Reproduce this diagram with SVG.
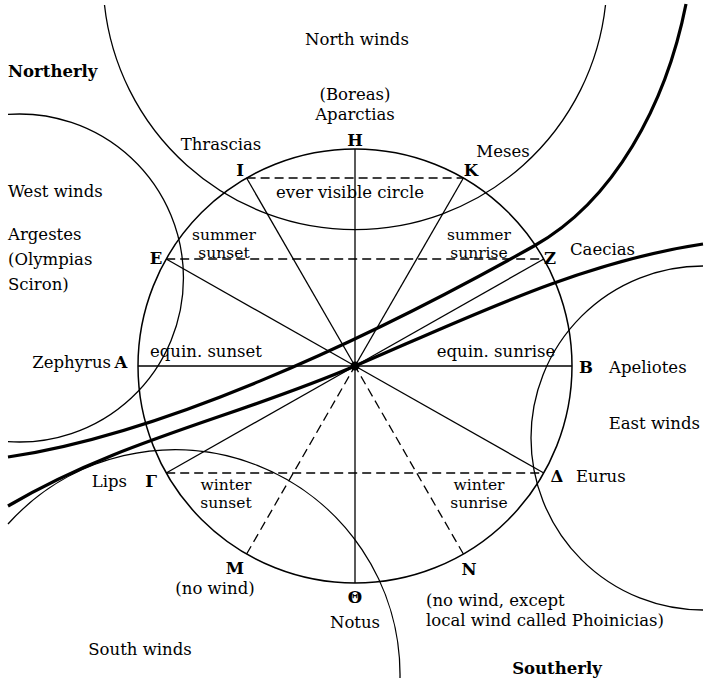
<svg xmlns="http://www.w3.org/2000/svg" width="704" height="684" viewBox="0 0 704 684">
<style>
.ln{stroke:#000;stroke-width:1.3;fill:none}
.circ{stroke:#000;stroke-width:1.5;fill:none}
.dash{stroke-dasharray:9 5}
.thick{stroke:#000;stroke-width:3.2;fill:none}
text{font-family:"DejaVu Serif","Liberation Serif",serif;font-size:16.5px;fill:#000}
.s{font-size:15.5px}
.b{font-weight:bold}
.m{text-anchor:middle}
.e{text-anchor:end}
</style>
<rect width="704" height="684" fill="#fff"/>
<g id="wind-circles">
<path id="north-circle" class="ln" d="M104.5 5 A252 252 0 0 0 605.5 5"/>
<path id="west-circle" class="ln" d="M8 114.4 A164 164 0 1 1 8 441.6"/>
<path id="south-circle" class="ln" d="M8 524 A225 225 0 0 1 400 678"/>
<path id="east-circle" class="ln" d="M703 266 A172 172 0 1 0 703 610"/>
</g>
<g id="main-circle">
<circle class="circ" cx="355" cy="366" r="217"/>
<circle cx="355" cy="366" r="4.5" fill="#000"/>
</g>
<g id="connectors">
<line class="ln" x1="355" y1="149" x2="355" y2="583"/>
<line class="ln" x1="138" y1="366" x2="572" y2="366"/>
<line class="ln dash" x1="246.6" y1="178" x2="463.4" y2="178"/>
<line class="ln dash" x1="166.2" y1="259" x2="543.8" y2="259"/>
<line class="ln dash" x1="166.2" y1="473" x2="543.8" y2="473"/>
<line class="ln" x1="246.6" y1="178" x2="355" y2="366"/>
<line class="ln" x1="463.4" y1="178" x2="355" y2="366"/>
<line class="ln" x1="166.2" y1="259" x2="355" y2="366"/>
<line class="ln" x1="543.8" y1="259" x2="355" y2="366"/>
<line class="ln" x1="166.2" y1="473" x2="355" y2="366"/>
<line class="ln" x1="543.8" y1="473" x2="355" y2="366"/>
<line class="ln dash" x1="246.6" y1="554" x2="355" y2="366"/>
<line class="ln dash" x1="463.4" y1="554" x2="355" y2="366"/>
<path id="curve-a" class="thick" d="M686 4 C666 105 614 201 534 246 C354 347 158 435 8 457"/>
<path id="curve-b" class="thick" d="M703 244 C582 262 474 315 355 366 C234 418 120 440 8 506"/>
</g>
<g id="labels-general">
<text x="357" y="45" class="m">North winds</text>
<text x="8" y="77" class="b">Northerly</text>
<text x="8" y="197">West winds</text>
<text x="350" y="198" class="m">ever visible circle</text>
<text x="700" y="429" class="e">East winds</text>
<text x="140" y="655" class="m">South winds</text>
<text x="557" y="674" class="m b">Southerly</text>
</g>
<g id="node-H">
<text class="m" x="355" y="100">(Boreas)<tspan x="355" dy="19.5">Aparctias</tspan></text>
<text x="355" y="146" class="m b">H</text>
</g>
<g id="node-I">
<text x="221" y="150" class="m">Thrascias</text>
<text x="240" y="176" class="m b">I</text>
</g>
<g id="node-K">
<text x="503" y="157" class="m">Meses</text>
<text x="471" y="176" class="m b">K</text>
</g>
<g id="node-E">
<text x="8" y="240">Argestes</text>
<text x="8" y="265">(Olympias</text>
<text x="8" y="290">Sciron)</text>
<text x="156" y="264" class="m b">E</text>
<text class="m s" x="224" y="240">summer<tspan x="224" dy="18.3">sunset</tspan></text>
</g>
<g id="node-Z">
<text x="550" y="264" class="m b">Z</text>
<text x="570" y="255">Caecias</text>
<text class="m s" x="479" y="240">summer<tspan x="479" dy="18.3">sunrise</tspan></text>
</g>
<g id="node-A">
<text x="111" y="368" class="e">Zephyrus</text>
<text x="121" y="368" class="m b">A</text>
<text x="206" y="357" class="m">equin. sunset</text>
</g>
<g id="node-B">
<text x="586" y="373" class="m b">B</text>
<text x="609" y="373">Apeliotes</text>
<text x="496" y="357" class="m">equin. sunrise</text>
</g>
<g id="node-Gamma">
<text x="127" y="487" class="e">Lips</text>
<text x="151" y="487" class="m b">Γ</text>
<text class="m s" x="226" y="490">winter<tspan x="226" dy="18.3">sunset</tspan></text>
</g>
<g id="node-Delta">
<text x="557" y="482" class="m b">Δ</text>
<text x="576" y="482">Eurus</text>
<text class="m s" x="479" y="490">winter<tspan x="479" dy="18.3">sunrise</tspan></text>
</g>
<g id="node-M">
<text x="235" y="574" class="m b">M</text>
<text x="215" y="594" class="m">(no wind)</text>
</g>
<g id="node-Theta">
<text x="355" y="603" class="m b">Θ</text>
<text x="355" y="628" class="m">Notus</text>
</g>
<g id="node-N">
<text x="469" y="575" class="m b">N</text>
<text x="426" y="606">(no wind, except<tspan x="426" dy="20">local wind called Phoinicias)</tspan></text>
</g>
</svg>
